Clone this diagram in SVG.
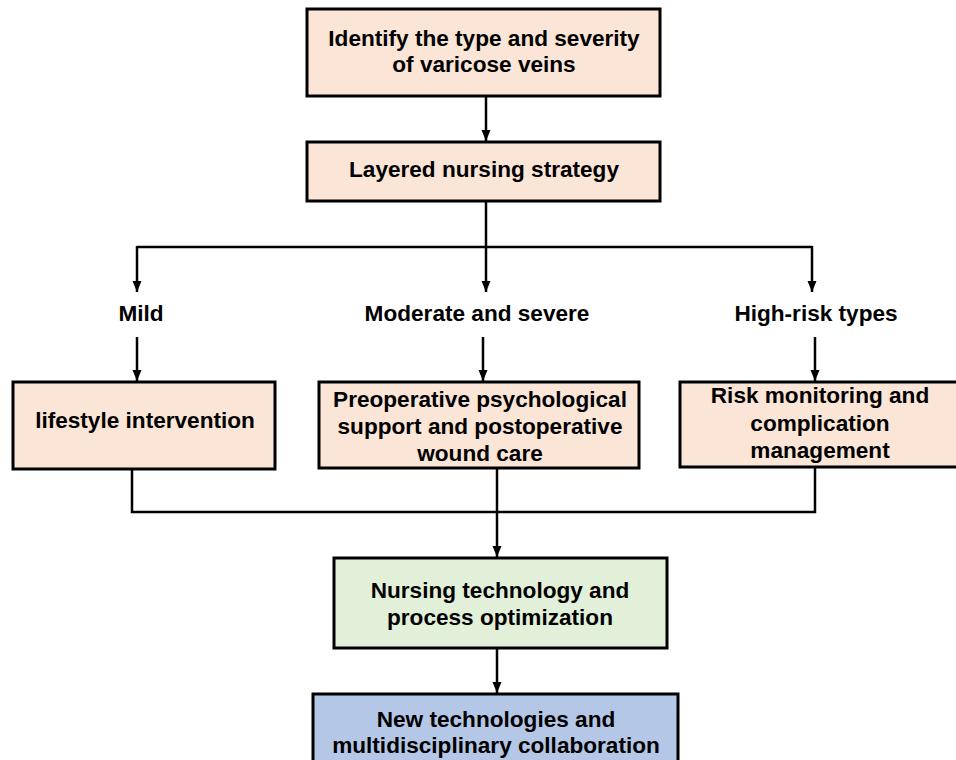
<svg xmlns="http://www.w3.org/2000/svg" width="956" height="760" viewBox="0 0 956 760">
<style>
.box{stroke:#000;stroke-width:3}
.peach{fill:#FBE5D6}
.green{fill:#E2F0D9}
.blue{fill:#B4C7E7}
text{font-family:"Liberation Sans",Arial,sans-serif;font-weight:bold;font-size:22.6px;fill:#000;text-anchor:middle}
.ln{fill:none;stroke:#000;stroke-width:2.5}
</style>
<defs>
<marker id="ah" markerUnits="userSpaceOnUse" markerWidth="12" markerHeight="12" viewBox="0 0 12 12" refX="11" refY="6" orient="auto">
<path d="M0,1.5 L11,6 L0,10.5 Z" fill="#000"/>
</marker>
</defs>
<rect width="956" height="760" fill="#fff"/>
<g id="connectors">
<line class="ln" x1="486" y1="96" x2="486" y2="141" marker-end="url(#ah)"/>
<polyline class="ln" points="486,201 486,247"/>
<polyline class="ln" points="137,247 812,247"/>
<line class="ln" x1="137" y1="246" x2="137" y2="292" marker-end="url(#ah)"/>
<line class="ln" x1="486" y1="247" x2="486" y2="292" marker-end="url(#ah)"/>
<line class="ln" x1="812" y1="246" x2="812" y2="292" marker-end="url(#ah)"/>
<line class="ln" x1="137" y1="337" x2="137" y2="381" marker-end="url(#ah)"/>
<line class="ln" x1="483" y1="337" x2="483" y2="381" marker-end="url(#ah)"/>
<line class="ln" x1="815" y1="337" x2="815" y2="381" marker-end="url(#ah)"/>
<polyline class="ln" points="132,469 132,512 815,512 815,467"/>
<line class="ln" x1="497" y1="468" x2="497" y2="557" marker-end="url(#ah)"/>
<line class="ln" x1="497" y1="648" x2="497" y2="693" marker-end="url(#ah)"/>
</g>
<g id="n1"><rect class="box peach" x="307" y="9" width="353" height="87"/>
<text x="484" y="46">Identify the type and severity</text><text x="484" y="72">of varicose veins</text></g>
<g id="n2"><rect class="box peach" x="307" y="142" width="353" height="59"/>
<text x="484" y="177">Layered nursing strategy</text></g>
<g id="l1"><text x="141" y="321">Mild</text></g>
<g id="l2"><text x="477" y="321">Moderate and severe</text></g>
<g id="l3"><text x="816" y="321">High-risk types</text></g>
<g id="n3"><rect class="box peach" x="13" y="382" width="262" height="87"/>
<text x="145" y="428">lifestyle intervention</text></g>
<g id="n4"><rect class="box peach" x="319" y="382" width="320" height="86"/>
<text x="480" y="407">Preoperative psychological</text><text x="480" y="434">support and postoperative</text><text x="480" y="461">wound care</text></g>
<g id="n5"><rect class="box peach" x="680" y="382" width="280" height="85"/>
<text x="820" y="403">Risk monitoring and</text><text x="820" y="431">complication</text><text x="820" y="458">management</text></g>
<g id="n6"><rect class="box green" x="334" y="558" width="333" height="90"/>
<text x="500" y="598">Nursing technology and</text><text x="500" y="625">process optimization</text></g>
<g id="n7"><rect class="box blue" x="313" y="694" width="365" height="80"/>
<text x="496" y="727">New technologies and</text><text x="496" y="753">multidisciplinary collaboration</text></g>
</svg>
